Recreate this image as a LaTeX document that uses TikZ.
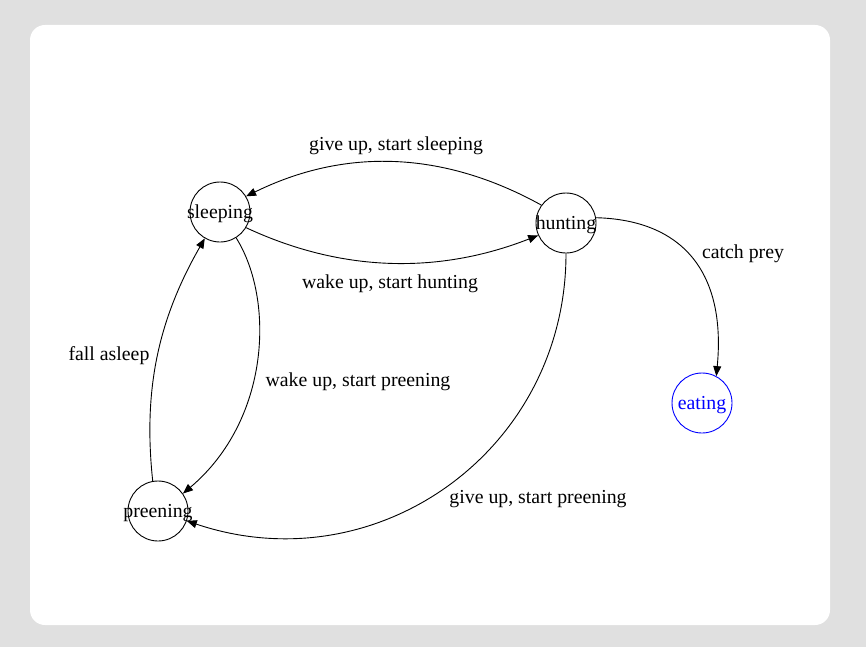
\documentclass[tikz,border=0pt]{standalone}
\usepackage{fontspec}
\setmainfont{Liberation Serif}
\usetikzlibrary{arrows.meta}
\definecolor{bggray}{HTML}{E0E0E0}
\definecolor{eatblue}{HTML}{0000FF}
\begin{document}
\begin{tikzpicture}[x=1pt,y=-1pt,
  state/.style={draw=black,line width=0.9pt,circle,minimum size=60pt,inner sep=0pt,text height=15.5pt,text depth=2pt,font=\fontsize{19.8}{23}\selectfont},
  lbl/.style={inner sep=0pt,font=\fontsize{19.8}{23}\selectfont},
  edge/.style={draw=black,line width=0.9pt,-{Triangle[length=10pt,width=8pt]}}]
\useasboundingbox (0,0) rectangle (866,647);
\fill[bggray] (0,0) rectangle (866,647);
\fill[white,rounded corners=15pt] (30,25) rectangle (830,625);
\node[state] (sleeping) at (220,212) {\makebox[0pt][c]{sleeping}};
\node[state] (hunting) at (566,223) {\makebox[0pt][c]{hunting}};
\node[state,draw=eatblue,text=eatblue] (eating) at (702,403) {\makebox[0pt][c]{eating}};
\node[state] (preening) at (158,511) {\makebox[0pt][c]{preening}};
\draw[edge] (hunting.144) .. controls (443,150.7) and (345,147.7) .. (sleeping.31);
\draw[edge] (sleeping.-31) .. controls (341,272) and (437.7,274.7) .. (hunting.204);
\draw[edge] (hunting.10) .. controls (685,220) and (726,275) .. (eating.62);
\draw[edge] (hunting.-90) .. controls (566,450) and (377,585) .. (preening.-19);
\draw[edge] (sleeping.-58) .. controls (275,300) and (270,420) .. (preening.35);
\draw[edge] (preening.100) .. controls (143,390) and (158,320) .. (sleeping.-120);
\node[lbl] (l1) at (396,146) {give up, start sleeping};
\node[lbl] (l2) at (390,284) {wake up, start hunting};
\node[lbl] (l3) at (743,254) {catch prey};
\node[lbl] (l4) at (538,499) {give up, start preening};
\node[lbl] (l5) at (358,382) {wake up, start preening};
\node[lbl] (l6) at (109,356) {fall asleep};
\end{tikzpicture}
\end{document}
